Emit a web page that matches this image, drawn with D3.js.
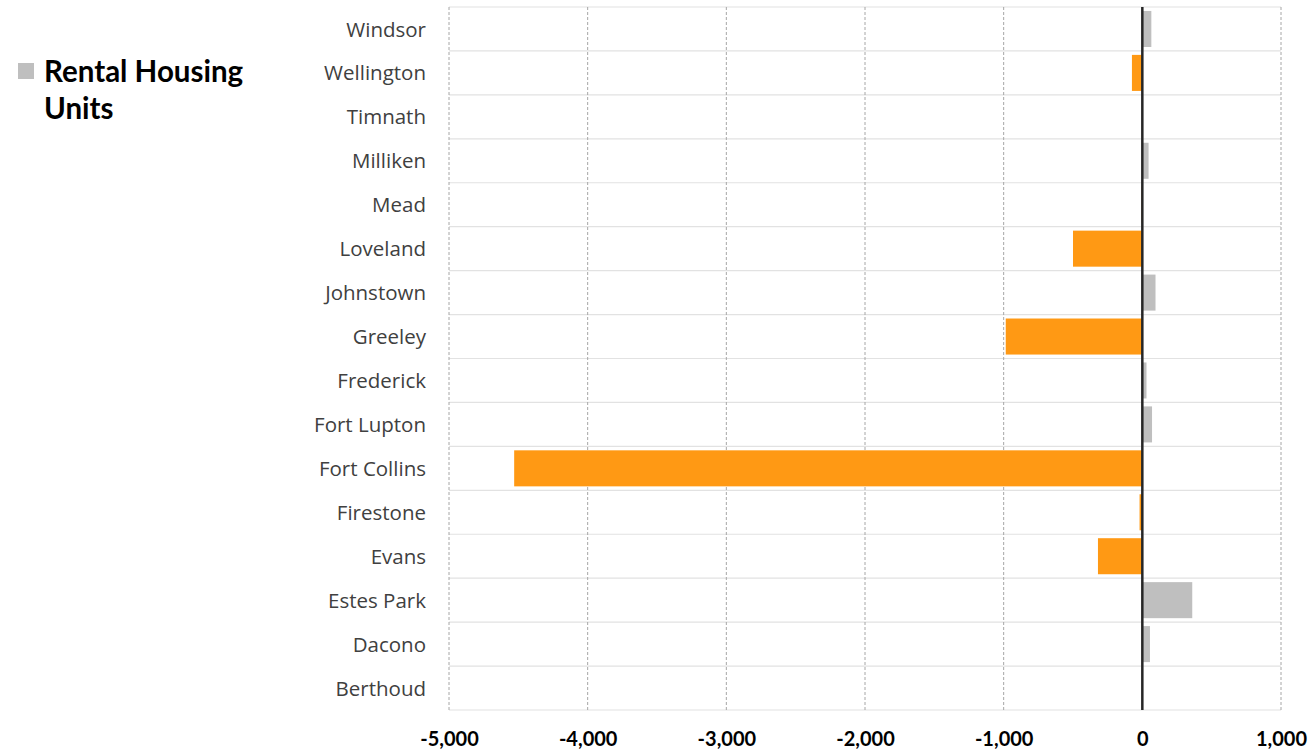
<!DOCTYPE html>
<html>
<head>
<meta charset="utf-8">
<script src="https://cdn.jsdelivr.net/npm/d3@7"></script>
<style>
  body { margin: 0; background: #fff; }
  svg { display: block; }
</style>
</head>
<body>
<div id="chart"></div>
<script>
// towns, top to bottom as shown in the chart
var towns = ["Windsor", "Wellington", "Timnath", "Milliken", "Mead", "Loveland",
  "Johnstown", "Greeley", "Frederick", "Fort Lupton", "Fort Collins", "Firestone",
  "Evans", "Estes Park", "Dacono", "Berthoud"];

// change in rental housing units
var rentalUnits = [65, -75, 0, 45, -5, -500, 95, -985, 30, 70, -4530, -20, -320, 360, 55, 0];

var tickValues = [-5000, -4000, -3000, -2000, -1000, 0, 1000];
var legendLines = ["Rental Housing", "Units"];

var svgWidth = 1316;
var svgHeight = 751;

var margin = { top: 7, right: 35, bottom: 41, left: 449 };
var chartWidth = svgWidth - margin.left - margin.right;
var chartHeight = svgHeight - margin.top - margin.bottom;

var svg = d3.select("#chart")
  .append("svg")
  .attr("width", svgWidth)
  .attr("height", svgHeight);

var chartGroup = svg.append("g")
  .attr("transform", `translate(${margin.left}, ${margin.top})`);

var xscale = d3.scaleLinear()
  .domain([-5000, 1000])
  .range([0, 832]);

var yscale = d3.scaleBand()
  .domain(towns)
  .range([0, chartHeight])
  .paddingInner(0.18)
  .paddingOuter(0.09);

// horizontal lines between the categories
var step = chartHeight / towns.length;
chartGroup.selectAll(".hgrid")
  .data(d3.range(towns.length + 1))
  .enter()
  .append("line")
  .attr("class", "hgrid")
  .attr("x1", 0)
  .attr("x2", xscale(1000))
  .attr("y1", d => d * step)
  .attr("y2", d => d * step)
  .attr("stroke", "#e2e2e2")
  .attr("stroke-width", 1.2);

// dashed vertical gridlines
chartGroup.selectAll(".vgrid")
  .data(tickValues.filter(d => d !== 0))
  .enter()
  .append("line")
  .attr("class", "vgrid")
  .attr("x1", d => xscale(d))
  .attr("x2", d => xscale(d))
  .attr("y1", 0)
  .attr("y2", chartHeight)
  .attr("stroke", "#a6a6a6")
  .attr("stroke-width", 1)
  .attr("stroke-dasharray", "3,2");

// bars
chartGroup.selectAll(".bar")
  .data(rentalUnits)
  .enter()
  .append("rect")
  .attr("class", "bar")
  .attr("x", d => xscale(Math.min(0, d)))
  .attr("y", (d, i) => yscale(towns[i]))
  .attr("width", d => Math.abs(xscale(d) - xscale(0)))
  .attr("height", yscale.bandwidth())
  .attr("fill", d => d < 0 ? "#FF9914" : "#BFBFBF");

// zero line
chartGroup.append("line")
  .attr("x1", xscale(0))
  .attr("x2", xscale(0))
  .attr("y1", 0)
  .attr("y2", chartHeight)
  .attr("stroke", "#262626")
  .attr("stroke-width", 2.5);

// town labels
chartGroup.selectAll(".town")
  .data(towns)
  .enter()
  .append("text")
  .attr("class", "town")
  .attr("x", -23)
  .attr("y", d => yscale(d) + yscale.bandwidth() / 2)
  .attr("dy", "0.37em")
  .attr("text-anchor", "end")
  .attr("font-family", "'Open Sans', Lato, sans-serif")
  .attr("font-size", "20.5px")
  .attr("fill", "#404040")
  .text(d => d);

// x axis tick labels (hyphen minus like the original)
var bottomAxis = d3.axisBottom(xscale)
  .tickValues(tickValues)
  .tickSize(0)
  .tickPadding(22)
  .tickFormat(d => d3.format(",")(d).replace("\u2212", "-"));

var xAxis = chartGroup.append("g")
  .attr("transform", `translate(0, ${chartHeight})`)
  .call(bottomAxis);

xAxis.select(".domain").remove();
xAxis.selectAll("text")
  .attr("font-family", "Lato, 'Open Sans', sans-serif")
  .attr("font-size", "20px")
  .attr("font-weight", "bold")
  .attr("fill", "#000");

// legend
var legend = svg.append("g");
legend.append("rect")
  .attr("x", 18)
  .attr("y", 63)
  .attr("width", 16)
  .attr("height", 16)
  .attr("fill", "#BFBFBF");

legend.selectAll("text")
  .data(legendLines)
  .enter()
  .append("text")
  .attr("x", 44)
  .attr("y", (d, i) => 82 + i * 37)
  .attr("font-family", "Lato, 'Open Sans', sans-serif")
  .attr("font-size", "29.5px")
  .attr("font-weight", "bold")
  .attr("fill", "#000")
  .text(d => d);
</script>
</body>
</html>
